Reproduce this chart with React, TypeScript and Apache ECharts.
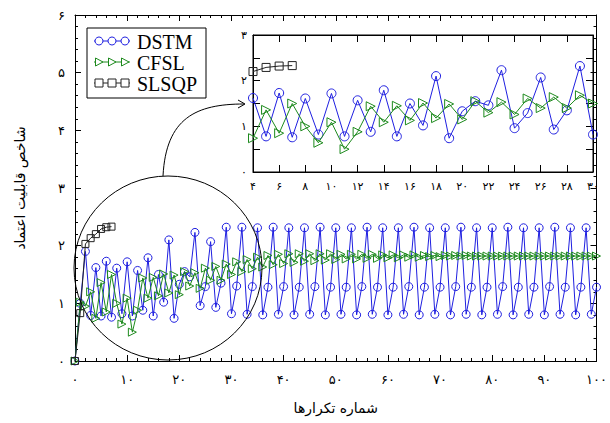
import React, { useEffect, useRef } from 'react';
import * as echarts from 'echarts';

// iteration numbers 0..100
const iterations: number[] = Array.from({ length: 101 }, (_, i) => i);

const dstmValues: number[] = [
  0, 1.0, 1.9, 0.79,
  1.62, 0.78, 1.73, 0.76, 1.61, 0.82, 1.72, 0.78, 1.57, 0.88,
  1.79, 0.78, 1.5, 1.02, 2.1, 0.74, 1.33, 1.55, 1.46, 2.23,
  0.96, 1.29, 2.07, 0.93, 1.35, 2.32, 0.82,
  1.3, 2.32, 0.81, 1.29, 2.31, 0.8, 1.28, 2.32, 0.81, 1.29,
  2.31, 0.8, 1.28, 2.31, 0.81, 1.29, 2.32, 0.8, 1.28, 2.31,
  0.81, 1.28, 2.31, 0.8, 1.29, 2.32, 0.81, 1.28, 2.31, 0.8,
  1.28, 2.31, 0.81, 1.29, 2.32, 0.8, 1.28, 2.31, 0.81, 1.28,
  2.31, 0.8, 1.29, 2.32, 0.81, 1.28, 2.31, 0.8, 1.28, 2.31,
  0.81, 1.29, 2.32, 0.8, 1.28, 2.31, 0.81, 1.28, 2.31, 0.8,
  1.29, 2.32, 0.81, 1.28, 2.31, 0.8, 1.28, 2.31, 0.81, 1.28,
];

const cfslValues: number[] = [
  0, 1.02, 0.95, 1.2,
  0.74, 1.36, 0.85, 1.5, 1.0, 0.64, 1.09, 0.5, 0.88, 1.44,
  1.09, 1.45, 1.13, 1.51, 1.18, 1.49, 1.15, 1.55, 1.3, 1.53,
  1.26, 1.61, 1.4, 1.64, 1.4, 1.68,
  1.5, 1.72, 1.55, 1.76, 1.6, 1.8, 1.63, 1.83, 1.67, 1.85,
  1.69, 1.86, 1.71, 1.86, 1.73, 1.86, 1.74, 1.86, 1.75, 1.86,
  1.76, 1.85, 1.77, 1.85, 1.77, 1.85, 1.78, 1.85, 1.78, 1.84,
  1.79, 1.84, 1.79, 1.84, 1.8, 1.84, 1.8, 1.83, 1.81, 1.83,
  1.81, 1.83, 1.82, 1.83, 1.82, 1.83,
  1.82, 1.82, 1.82, 1.82, 1.82, 1.82, 1.82, 1.82, 1.82, 1.82,
  1.82, 1.82, 1.82, 1.82, 1.82, 1.82, 1.82, 1.82, 1.82, 1.82,
  1.82, 1.82, 1.82, 1.82, 1.82,
];

const slsqpValues: number[] = [0, 0.83, 2.03, 2.13, 2.2, 2.29, 2.32, 2.33];

const seriesNames = ['DSTM', 'CFSL', 'SLSQP'];
const xAxisTitle = 'شماره تکرارها';
const yAxisTitle = 'شاخص قابلیت اعتماد';
const insetRange = [4, 30];

const BLUE = '#1f1fe0';
const GREEN = '#1d8a1d';
const BLACK = '#222222';

const faDigits = '۰۱۲۳۴۵۶۷۸۹';
const toFa = (v: number | string) => String(v).replace(/\d/g, (d) => faDigits[+d]);

const pairs = (vals: number[]) => vals.map((v, i) => [iterations[i], v]);
const insetPairs = (vals: number[]) =>
  pairs(vals).filter((p) => p[0] >= insetRange[0] && p[0] <= insetRange[1]);

const FONT = 'DejaVu Sans';

function makeSeries(name: string, data: number[][], color: string, symbol: string, size: number, rotate: number, xi: number, yi: number, z: number) {
  return {
    name,
    type: 'line',
    xAxisIndex: xi,
    yAxisIndex: yi,
    data,
    symbol,
    symbolSize: size,
    symbolRotate: rotate,
    showSymbol: true,
    showAllSymbol: true,
    z,
    lineStyle: { color, width: 1 },
    itemStyle: { color: 'rgba(255,255,255,0)', borderColor: color, borderWidth: 1 },
    emphasis: { disabled: true },
    clip: true,
  };
}

export default function App() {
  const ref = useRef<HTMLDivElement>(null);
  useEffect(() => {
    if (!ref.current) return;
    const chart = echarts.init(ref.current, undefined, { renderer: 'svg' });
    const axisBase = {
      axisLine: { show: true, onZero: false, lineStyle: { color: '#000', width: 1 } },
      splitLine: { show: false },
    };
    const labelStyle = { color: '#000', fontFamily: FONT, fontSize: 13, showMinLabel: true, showMaxLabel: true };
    const legendY = [41, 62, 83];
    const legendMarkers = [99, 112, 125];
    const legendGraphics: any[] = [
      { type: 'rect', shape: { x: 87, y: 28, width: 119, height: 70 }, style: { fill: '#fff', stroke: '#000', lineWidth: 1 }, z: 100 },
    ];
    const colors = [BLUE, GREEN, BLACK];
    seriesNames.forEach((n, k) => {
      const y = legendY[k];
      legendGraphics.push({ type: 'line', shape: { x1: 94, y1: y, x2: 130, y2: y }, style: { stroke: colors[k], lineWidth: 1 }, z: 101 });
      legendMarkers.forEach((mx) => {
        if (k === 0) legendGraphics.push({ type: 'circle', shape: { cx: mx, cy: y, r: 4 }, style: { fill: '#fff', stroke: BLUE, lineWidth: 1 }, z: 102 });
        if (k === 1) legendGraphics.push({ type: 'polygon', shape: { points: [[mx - 3.5, y - 4], [mx + 4, y], [mx - 3.5, y + 4]] }, style: { fill: '#fff', stroke: GREEN, lineWidth: 1 }, z: 102 });
        if (k === 2) legendGraphics.push({ type: 'rect', shape: { x: mx - 4, y: y - 4, width: 8, height: 8 }, style: { fill: '#fff', stroke: BLACK, lineWidth: 1 }, z: 102 });
      });
      legendGraphics.push({ type: 'text', x: 137, y: y + 1, style: { text: n, fill: '#000', font: '20px "Liberation Serif"', lineHeight: 18, verticalAlign: 'middle', textAlign: 'left' }, z: 102 });
    });

    chart.setOption({
      animation: false,
      backgroundColor: '#fff',
      grid: [
        { left: 75, right: 4, top: 15, bottom: 62, show: false },
        { left: 253, top: 35, width: 340, height: 137, show: true, borderColor: '#000', borderWidth: 1 },
      ],
      xAxis: [
        {
          ...axisBase, gridIndex: 0, type: 'value', min: 0, max: 100, interval: 10, position: 'bottom',
          axisTick: { show: true, inside: true, length: 6, lineStyle: { color: '#000' } },
          minorTick: { show: true, splitNumber: 5, length: 3, lineStyle: { color: '#000' } },
          axisLabel: { ...labelStyle, margin: 12, formatter: (v: number) => toFa(v) },
          name: xAxisTitle, nameLocation: 'middle', nameGap: 40,
          nameTextStyle: { fontFamily: FONT, fontSize: 14, color: '#000' },
        },
        {
          ...axisBase, gridIndex: 0, type: 'value', min: 0, max: 100, interval: 10, position: 'top',
          axisTick: { show: true, inside: true, length: 6, lineStyle: { color: '#000' } },
          minorTick: { show: true, splitNumber: 5, length: 3, lineStyle: { color: '#000' } },
          axisLabel: { show: false },
        },
        {
          ...axisBase, gridIndex: 1, type: 'value', min: insetRange[0], max: insetRange[1], interval: 2, position: 'bottom',
          axisTick: { show: true, inside: true, length: 7, lineStyle: { color: '#000' } },
          axisLabel: { ...labelStyle, fontSize: 11, margin: 9, formatter: (v: number) => toFa(v) },
        },
        {
          ...axisBase, gridIndex: 1, type: 'value', min: insetRange[0], max: insetRange[1], interval: 2, position: 'top',
          axisTick: { show: true, inside: true, length: 7, lineStyle: { color: '#000' } },
          axisLabel: { show: false },
        },
      ],
      yAxis: [
        {
          ...axisBase, gridIndex: 0, type: 'value', min: 0, max: 6, interval: 1, position: 'left',
          axisTick: { show: true, inside: true, length: 6, lineStyle: { color: '#000' } },
          minorTick: { show: true, splitNumber: 5, length: 3, lineStyle: { color: '#000' } },
          axisLabel: { ...labelStyle, margin: 10, formatter: (v: number) => toFa(v) },
          name: yAxisTitle, nameLocation: 'middle', nameGap: 48, nameRotate: 90,
          nameTextStyle: { fontFamily: FONT, fontSize: 14, color: '#000' },
        },
        {
          ...axisBase, gridIndex: 0, type: 'value', min: 0, max: 6, interval: 1, position: 'right',
          axisTick: { show: true, inside: true, length: 6, lineStyle: { color: '#000' } },
          minorTick: { show: true, splitNumber: 5, length: 3, lineStyle: { color: '#000' } },
          axisLabel: { show: false },
        },
        {
          ...axisBase, gridIndex: 1, type: 'value', min: 0, max: 3, interval: 0.5, position: 'left',
          axisTick: { show: true, inside: true, length: 7, lineStyle: { color: '#000' } },
          axisLabel: { ...labelStyle, fontSize: 11, margin: 6, formatter: (v: number) => (Number.isInteger(v) ? toFa(v) : '') },
        },
        {
          ...axisBase, gridIndex: 1, type: 'value', min: 0, max: 3, interval: 0.5, position: 'right',
          axisTick: { show: true, inside: true, length: 7, lineStyle: { color: '#000' } },
          axisLabel: { show: false },
        },
      ],
      series: [
        makeSeries(seriesNames[0], pairs(dstmValues), BLUE, 'circle', 8, 0, 0, 0, 3),
        makeSeries(seriesNames[1], pairs(cfslValues), GREEN, 'triangle', 8, -90, 0, 0, 4),
        makeSeries(seriesNames[2], pairs(slsqpValues), BLACK, 'rect', 7, 0, 0, 0, 5),
        makeSeries(seriesNames[0], insetPairs(dstmValues), BLUE, 'circle', 9, 0, 2, 2, 13),
        makeSeries(seriesNames[1], insetPairs(cfslValues), GREEN, 'triangle', 9, -90, 2, 2, 14),
        makeSeries(seriesNames[2], insetPairs(slsqpValues), BLACK, 'rect', 8, 0, 2, 2, 15),
      ],
      graphic: [
        { type: 'ellipse', shape: { cx: 168, cy: 268, rx: 94, ry: 92 }, style: { fill: 'none', stroke: '#000', lineWidth: 1 }, z: 50, silent: true },
        { type: 'bezierCurve', shape: { x1: 163, y1: 176, cpx1: 166, cpy1: 118, cpx2: 196, cpy2: 104, x2: 244, y2: 104 }, style: { fill: 'none', stroke: '#000', lineWidth: 1 }, z: 50 },
        { type: 'polyline', shape: { points: [[238, 100], [245, 104], [238, 108]] }, style: { fill: 'none', stroke: '#000', lineWidth: 1 }, z: 50 },
        ...legendGraphics,
      ],
    });
    return () => chart.dispose();
  }, []);
  return <div ref={ref} style={{ position: 'fixed', left: 0, top: 0, width: 610, height: 423 }} />;
}
